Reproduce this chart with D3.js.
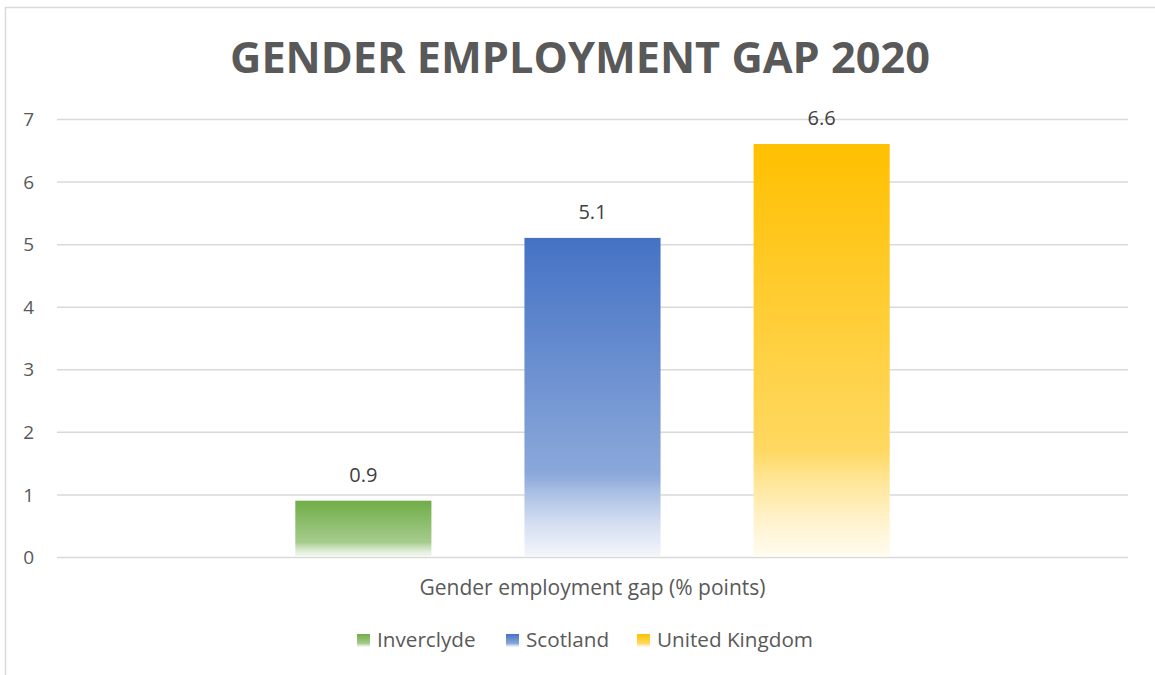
<!DOCTYPE html>
<html>
<head>
<meta charset="utf-8">
<script src="https://cdn.jsdelivr.net/npm/d3@7"></script>
<style>
  html, body { margin: 0; padding: 0; background: #ffffff; }
  svg { display: block; }
  text { font-family: "Open Sans", "Liberation Sans", sans-serif; }
</style>
</head>
<body>
<svg id="chart" width="1155" height="675"></svg>
<script>
// Series and values
const categories = ["Gender employment gap (% points)"];
const seriesNames = ["Inverclyde", "Scotland", "United Kingdom"];
const seriesValues = [0.9, 5.1, 6.6];
const seriesColors = ["#70AD47", "#4472C4", "#FFC000"];
const yTicks = [0, 1, 2, 3, 4, 5, 6, 7];
const chartTitle = "GENDER EMPLOYMENT GAP 2020";

const svg = d3.select("#chart");
const W = 1155, H = 675;
const plot = { left: 57, right: 1128, top: 119, bottom: 557 };

// Fit a text element to a target width by scaling its font size
function fitWidth(sel, target) {
  const node = sel.node();
  const w = node.getComputedTextLength();
  const fs = parseFloat(sel.attr("font-size"));
  const nfs = fs * target / w;
  sel.attr("font-size", nfs.toFixed(2));
  return nfs;
}

// Chart frame
svg.append("rect")
  .attr("x", 5.5).attr("y", 7.5)
  .attr("width", W + 20).attr("height", H + 20)
  .attr("fill", "#ffffff")
  .attr("stroke", "#D9D9D9").attr("stroke-width", 1.5);

// Title
const title = svg.append("text")
  .attr("x", 580).attr("y", 73)
  .attr("text-anchor", "middle")
  .attr("font-size", 44).attr("font-weight", 700)
  .attr("fill", "#595959")
  .text(chartTitle);
fitWidth(title, 700);

// Scales
const y = d3.scaleLinear().domain([0, 7]).range([plot.bottom, plot.top]);
const x0 = d3.scaleBand().domain(categories).range([plot.left, plot.right]).padding(0);
const x1 = d3.scaleBand().domain(seriesNames)
  .range([0, x0.bandwidth()])
  .paddingInner(0.406).paddingOuter(1.04);

// Gridlines and y labels via axis
const yAxis = d3.axisLeft(y).tickValues(yTicks).tickFormat(d3.format("d"))
  .tickSize(-(plot.right - plot.left)).tickPadding(0);
const gy = svg.append("g").attr("transform", `translate(${plot.left},0)`).call(yAxis);
gy.select(".domain").remove();
gy.selectAll(".tick line").attr("stroke", "#D9D9D9").attr("stroke-width", 1.5);
gy.selectAll(".tick text")
  .attr("x", -23).attr("dy", "0.35em")
  .attr("font-size", 19).attr("fill", "#595959")
  .attr("font-family", "'Open Sans', sans-serif");

// Gradients: full colour at the top fading toward white at the base
const defs = svg.append("defs");
function mixWhite(c, t) { return d3.interpolateRgb(c, "#ffffff")(t); }
seriesNames.forEach((name, i) => {
  const g = defs.append("linearGradient")
    .attr("id", "grad" + i)
    .attr("x1", 0).attr("y1", 0).attr("x2", 0).attr("y2", 1);
  const c = seriesColors[i];
  [[0, 0], [0.74, 0.38], [0.80, 0.55], [0.90, 0.78], [1, 0.94]].forEach(([o, t]) => {
    g.append("stop").attr("offset", o).attr("stop-color", mixWhite(c, t));
  });
});

// Bars
const gBars = svg.append("g");
categories.forEach(cat => {
  const gc = gBars.append("g").attr("transform", `translate(${x0(cat)},0)`);
  gc.selectAll("rect")
    .data(seriesNames.map((n, i) => ({ name: n, value: seriesValues[i], i })))
    .join("rect")
    .attr("x", d => x1(d.name))
    .attr("y", d => y(d.value))
    .attr("width", x1.bandwidth())
    .attr("height", d => y(0) - y(d.value))
    .attr("fill", d => `url(#grad${d.i})`);
  gc.selectAll("text.val")
    .data(seriesNames.map((n, i) => ({ name: n, value: seriesValues[i] })))
    .join("text")
    .attr("class", "val")
    .attr("x", d => x1(d.name) + x1.bandwidth() / 2)
    .attr("y", d => y(d.value) - 19)
    .attr("text-anchor", "middle")
    .attr("font-size", 20).attr("fill", "#404040")
    .text(d => d3.format(".1f")(d.value));
});

// Category axis title
const cat = svg.append("text")
  .attr("x", x0(categories[0]) + x0.bandwidth() / 2)
  .attr("y", 595)
  .attr("text-anchor", "middle")
  .attr("font-size", 18).attr("fill", "#595959")
  .text(categories[0]);
fitWidth(cat, 346);

// Legend
const legendX = [357, 506, 637];
const lg = svg.append("g");
const legendTexts = seriesNames.map((name, i) => {
  lg.append("rect")
    .attr("x", legendX[i]).attr("y", 634)
    .attr("width", 13).attr("height", 13)
    .attr("fill", `url(#grad${i})`);
  return lg.append("text")
    .attr("x", legendX[i] + 20).attr("y", 647)
    .attr("font-size", 18).attr("fill", "#595959")
    .text(name);
});
const lfs = fitWidth(legendTexts[2], 156);
legendTexts.forEach(t => t.attr("font-size", lfs.toFixed(2)));
</script>
</body>
</html>
